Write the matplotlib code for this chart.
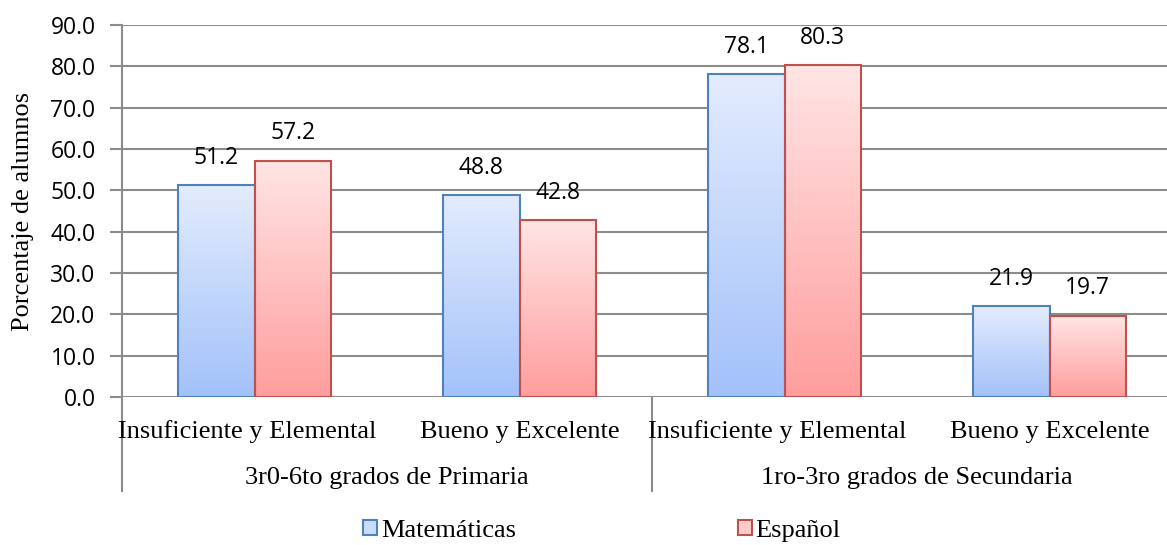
import numpy as np
import matplotlib.pyplot as plt
from matplotlib.patches import Patch
from matplotlib.colors import LinearSegmentedColormap
import matplotlib.transforms as mtransforms

categories = ["Insuficiente y Elemental", "Bueno y Excelente",
              "Insuficiente y Elemental", "Bueno y Excelente"]
groups = ["3r0-6to grados de Primaria", "1ro-3ro grados de Secundaria"]
matematicas = [51.2, 48.8, 78.1, 21.9]
espanol = [57.2, 42.8, 80.3, 19.7]
series_names = ["Matemáticas", "Español"]

SERIF = "Liberation Serif"
SANS = "Open Sans"

fig = plt.figure(figsize=(11.67, 5.45), dpi=100)
ax = fig.add_axes([122 / 1167, 1 - 397 / 545, 1 - 122 / 1167, 372 / 545])

x = np.arange(len(categories))
w = 0.288
styles = [
    (matematicas, -w / 2, "#4f81bd", ("#e3ecfd", "#a3c1fa")),
    (espanol, w / 2, "#c0504d", ("#ffe5e5", "#ff9d9d")),
]

for vals, off, edge, (top, bot) in styles:
    cmap = LinearSegmentedColormap.from_list("g", [bot, top])
    bars = ax.bar(x + off, vals, width=w, facecolor="none", edgecolor=edge,
                  linewidth=1.5, zorder=3)
    for b, v in zip(bars, vals):
        x0 = b.get_x()
        grad = np.linspace(0, 1, 256).reshape(-1, 1)
        im = ax.imshow(grad, cmap=cmap, origin="lower", aspect="auto",
                       extent=[x0, x0 + w, 0, v], zorder=2)
        im.set_clip_path(b)
        ax.annotate(f"{v:.1f}", (b.get_x() + w / 2, v), xytext=(0, 11),
                    textcoords="offset points", ha="center", va="bottom",
                    fontsize=16.5, family=SANS)

ax.set_xlim(-0.5, -0.5 + 1045 / 265)
ax.set_ylim(0, 90)
ax.set_yticks(np.arange(0, 91, 10))
ax.set_yticklabels([f"{t:.1f}" for t in np.arange(0, 91, 10)], family=SANS,
                   fontsize=16.5)
ax.yaxis.grid(True, color="#8c8c8c", linewidth=1.5, zorder=0)
ax.set_axisbelow(True)
ax.tick_params(axis="y", length=9, width=1.5, color="#8c8c8c", pad=10)
ax.set_xticks([])
for s in ["top", "right", "bottom"]:
    ax.spines[s].set_visible(False)
ax.spines["left"].set_color("#8c8c8c")
ax.spines["left"].set_linewidth(1.5)

ax.set_ylabel("Porcentaje de alumnos", family=SERIF, fontsize=19, labelpad=12)

trans = mtransforms.blended_transform_factory(ax.transData, ax.transAxes)
for gx in [-0.5, 1.5, 3.5]:
    ax.plot([gx, gx], [0, -0.253], transform=trans, color="#8c8c8c",
            linewidth=1.5, clip_on=False)
# long labels sit a little left of centre, as in the original
for i, c in enumerate(categories):
    dx = -5 / 72 if len(c) > 20 else 0
    t = trans + mtransforms.ScaledTranslation(dx, 0, fig.dpi_scale_trans)
    ax.text(i, -0.110, c, transform=t, ha="center", va="baseline",
            family=SERIF, fontsize=19)
for i, g in enumerate(groups):
    ax.text(2 * i + 0.5, -0.234, g, transform=trans, ha="center",
            va="baseline", family=SERIF, fontsize=19)

handles = [Patch(facecolor="#cadcfb", edgecolor="#4f81bd", linewidth=1.5),
           Patch(facecolor="#ffcaca", edgecolor="#c0504d", linewidth=1.5)]
fig.legend(handles, series_names, loc="center",
           bbox_to_anchor=(602 / 1167, 1 - 531 / 545),
           ncol=2, frameon=False, prop={"family": SERIF, "size": 19},
           handlelength=0.53, handleheight=0.53, handletextpad=0.15,
           columnspacing=8.4, borderpad=0)

fig.savefig("out.png", dpi=100)
